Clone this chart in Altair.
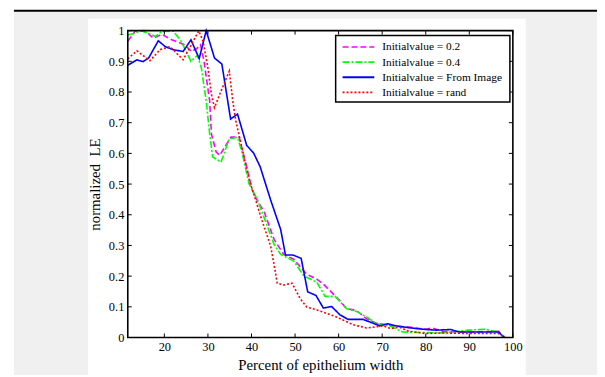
import altair as alt
import pandas as pd

# ---------------- data ----------------
series_names = [
    "Initialvalue = 0.2",
    "Initialvalue = 0.4",
    "Initialvalue = From Image",
    "Initialvalue = rand",
]

x_02 = [11.6, 13.3, 15.5, 17.5, 19.4, 21.7, 24.7, 26.2, 27.3, 28.3, 29.1, 30.4, 30.8,
        31.9, 32.7, 35.3, 37.2, 38.3, 40.2, 41.0, 42.9, 45.2, 47.4, 49.7, 52.7, 55.0,
        56.5, 60.3, 61.8, 64.1, 66.4, 68.6, 72.4, 76.2, 80.0, 81.5, 83.8, 87.6, 91.4,
        96.7, 98.2]
y_02 = [0.965, 0.999, 1.0, 0.975, 0.988, 0.970, 0.954, 0.932, 0.940, 0.954, 0.900, 0.771,
        0.663, 0.604, 0.594, 0.653, 0.653, 0.588, 0.480, 0.454, 0.410, 0.319, 0.271,
        0.255, 0.206, 0.190, 0.174, 0.120, 0.094, 0.088, 0.061, 0.047, 0.038, 0.034,
        0.027, 0.031, 0.020, 0.018, 0.018, 0.020, 0.0]

x_04 = [11.6, 13.0, 14.8, 16.4, 17.9, 19.4, 22.0, 23.9, 26.1, 27.6, 28.5, 29.6, 30.4,
        31.1, 33.0, 34.9, 36.8, 37.9, 39.4, 41.4, 45.2, 46.7, 49.7, 52.0, 55.0, 56.9,
        59.2, 61.8, 64.1, 66.4, 68.6, 71.7, 74.7, 79.3, 83.8, 89.8, 93.6, 96.7, 98.2]
y_04 = [0.986, 0.991, 0.999, 0.991, 0.981, 0.997, 0.999, 0.965, 0.900, 0.920, 0.878,
        0.771, 0.663, 0.588, 0.572, 0.647, 0.653, 0.599, 0.502, 0.448, 0.303, 0.271,
        0.249, 0.201, 0.180, 0.134, 0.134, 0.094, 0.085, 0.067, 0.045, 0.038, 0.018,
        0.016, 0.015, 0.024, 0.027, 0.018, 0.0]

x_img = [11.6, 13.7, 15.1, 16.4, 18.6, 20.2, 22.0, 24.3, 26.1, 28.0, 29.6, 31.5, 33.2,
         35.2, 36.8, 38.9, 40.5, 42.0, 44.4, 46.7, 47.8, 49.5, 51.4, 52.9, 54.8, 56.5,
         58.4, 60.3, 62.2, 65.6, 67.1, 69.4, 71.3, 73.2, 76.1, 79.3, 82.3, 85.7, 87.6,
         96.7, 98.0]
y_img = [0.887, 0.905, 0.899, 0.911, 0.967, 0.948, 0.938, 0.932, 0.970, 0.909, 1.0,
         0.911, 0.891, 0.712, 0.728, 0.626, 0.601, 0.556, 0.448, 0.352, 0.269, 0.269,
         0.258, 0.149, 0.137, 0.096, 0.101, 0.074, 0.059, 0.059, 0.051, 0.038, 0.045,
         0.038, 0.032, 0.027, 0.024, 0.026, 0.018, 0.018, 0.0]

x_rand = [11.6, 13.7, 16.7, 19.0, 21.3, 24.3, 26.2, 27.9, 28.9, 30.0, 30.8, 31.5, 33.0,
          34.9, 35.7, 36.4, 37.6, 39.5, 40.6, 42.1, 44.4, 45.5, 45.9, 47.4, 49.3, 51.2,
          52.7, 55.0, 59.5, 63.3, 66.4, 70.2, 72.0, 73.9, 76.2, 80.0, 83.8, 89.8, 96.7,
          98.2]
y_rand = [0.908, 0.934, 0.902, 0.938, 0.948, 0.905, 0.954, 0.999, 0.965, 0.878, 0.792,
          0.749, 0.803, 0.868, 0.771, 0.706, 0.631, 0.513, 0.465, 0.395, 0.298, 0.212,
          0.177, 0.171, 0.177, 0.126, 0.099, 0.090, 0.067, 0.042, 0.031, 0.038, 0.029,
          0.034, 0.020, 0.013, 0.015, 0.013, 0.013, 0.0]

x_ticks = [20, 30, 40, 50, 60, 70, 80, 90, 100]
y_ticks = [0, 0.1, 0.2, 0.3, 0.4, 0.5, 0.6, 0.7, 0.8, 0.9, 1.0]

x_title = "Percent of epithelium width"
y_title = "normalized\u00a0 LE"

# ---------------- styles ----------------
colors = ["#ff00ff", "#00ff00", "#0000ff", "#ff0000"]
dashes = [[6, 3], [7, 2, 2, 2], [1, 0], [2, 2]]
widths = [1.6, 1.6, 2.0, 1.8]
FONT = "Liberation Serif"

W, H = 389, 310

rows = []
for name, xs, ys in zip(series_names, [x_02, x_04, x_img, x_rand],
                        [y_02, y_04, y_img, y_rand]):
    for i, (a, b) in enumerate(zip(xs, ys)):
        rows.append({"series": name, "x": a, "y": b, "order": i})
df = pd.DataFrame(rows)

xscale = alt.Scale(domain=[11.6, 100], nice=False, zero=False)
yscale = alt.Scale(domain=[0, 1], nice=False, zero=False)
dummy = pd.DataFrame({"d": [0]})

x_axis = alt.Axis(
    values=x_ticks, title=x_title, grid=False, domain=False, ticks=False,
    labelFont=FONT, labelFontSize=12.5, labelColor="black", labelPadding=3,
    labelFlush=False, titleFont=FONT, titleFontSize=15, titleFontWeight="normal",
    titleColor="black", titlePadding=5, zindex=1)
y_axis = alt.Axis(
    values=y_ticks, format=".1~f", title=y_title, grid=False, domain=False,
    ticks=False, labelFont=FONT, labelFontSize=12.5, labelColor="black",
    labelPadding=4, labelFlush=False, titleFont=FONT, titleFontSize=15,
    titleFontWeight="normal", titleColor="black", titlePadding=6, zindex=1)

# page decoration
gray = alt.Chart(dummy).mark_rect(color="#f0f0f0").encode(
    x=alt.value(-115), x2=alt.value(480), y=alt.value(-19), y2=alt.value(350))
topbar = alt.Chart(dummy).mark_rect(color="black").encode(
    x=alt.value(-115), x2=alt.value(480), y=alt.value(-21), y2=alt.value(-19))
panel = alt.Chart(dummy).mark_rect(color="white").encode(
    x=alt.value(-40), x2=alt.value(402), y=alt.value(-12), y2=alt.value(350))

lines = alt.Chart(df).mark_line().encode(
    x=alt.X("x:Q", scale=xscale, axis=x_axis),
    y=alt.Y("y:Q", scale=yscale, axis=y_axis),
    color=alt.Color("series:N", scale=alt.Scale(domain=series_names, range=colors),
                    legend=None),
    strokeDash=alt.StrokeDash("series:N",
                              scale=alt.Scale(domain=series_names, range=dashes),
                              legend=None),
    strokeWidth=alt.StrokeWidth("series:N",
                                scale=alt.Scale(domain=series_names, range=widths),
                                legend=None),
    order="order:Q",
)

tx = pd.DataFrame({"t": x_ticks})
ty = pd.DataFrame({"t": y_ticks})
bottom_ticks = alt.Chart(tx).mark_rule(color="black", strokeWidth=1).encode(
    x=alt.X("t:Q", scale=xscale, axis=x_axis), y=alt.value(H), y2=alt.value(H - 4))
top_ticks = alt.Chart(tx).mark_rule(color="black", strokeWidth=1).encode(
    x=alt.X("t:Q", scale=xscale, axis=x_axis), y=alt.value(0), y2=alt.value(4))
left_ticks = alt.Chart(ty).mark_rule(color="black", strokeWidth=1).encode(
    y=alt.Y("t:Q", scale=yscale, axis=y_axis), x=alt.value(0), x2=alt.value(4))
right_ticks = alt.Chart(ty).mark_rule(color="black", strokeWidth=1).encode(
    y=alt.Y("t:Q", scale=yscale, axis=y_axis), x=alt.value(W), x2=alt.value(W - 4))

frame = alt.Chart(dummy).mark_rect(fillOpacity=0, stroke="black", strokeWidth=1.6).encode(
    x=alt.value(0), x2=alt.value(W), y=alt.value(0), y2=alt.value(H))

# legend (drawn manually)
legend_layers = [
    alt.Chart(dummy).mark_rect(fill="white", stroke="black", strokeWidth=1.5).encode(
        x=alt.value(210), x2=alt.value(386), y=alt.value(5), y2=alt.value(72))
]
for i, name in enumerate(series_names):
    ly = 16.5 + 15.3 * i
    legend_layers.append(
        alt.Chart(dummy).mark_rule(color=colors[i], strokeDash=dashes[i],
                                   strokeWidth=widths[i]).encode(
            x=alt.value(217), x2=alt.value(249), y=alt.value(ly)))
    legend_layers.append(
        alt.Chart(dummy).mark_text(align="left", baseline="middle", font=FONT,
                                   fontSize=11.5, color="black", text=name).encode(
            x=alt.value(257), y=alt.value(ly + 0.5)))

chart = alt.layer(
    gray, topbar, panel, lines, bottom_ticks, top_ticks, left_ticks, right_ticks,
    frame, *legend_layers
).properties(
    width=W, height=H,
    padding={"left": 121, "top": 21, "right": 85, "bottom": 36},
    autosize=alt.AutoSizeParams(type="none"),
).configure(background="white").configure_view(strokeWidth=0)

chart.save("out.html", embed_options={"renderer": "svg", "actions": False})
